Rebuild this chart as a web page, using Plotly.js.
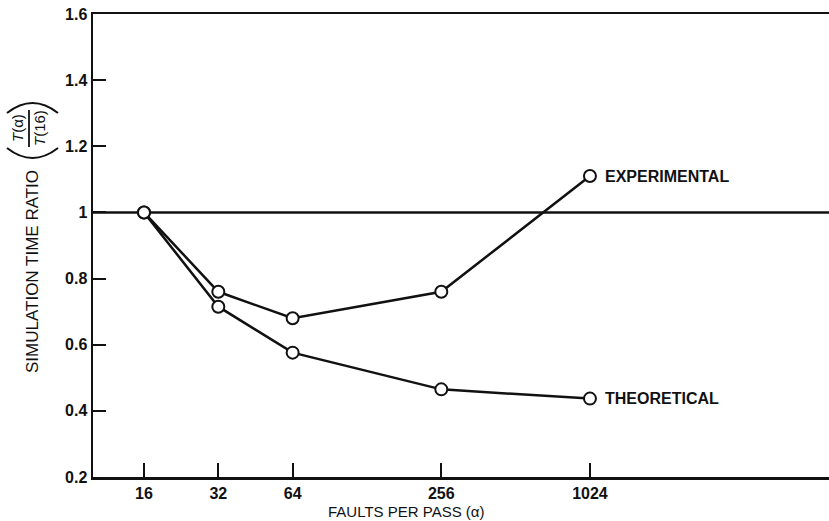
<!DOCTYPE html>
<html>
<head>
<meta charset="utf-8">
<script src="https://cdn.plot.ly/plotly-3.0.1.min.js"></script>
<style>
  html, body { margin: 0; padding: 0; background: #fff; }
  #chart { width: 829px; height: 521px; }
</style>
</head>
<body>
<div id="chart"></div>
<script>
// ---- data ----
const alpha = [16, 32, 64, 256, 1024];
const alphaLabels = ["16", "32", "64", "256", "1024"];
const experimental = [1.0, 0.76, 0.68, 0.76, 1.11];
const theoretical = [1.0, 0.715, 0.576, 0.465, 0.437];
const yTickVals = [0.2, 0.4, 0.6, 0.8, 1.0, 1.2, 1.4, 1.6];
const yTickText = ["0.2", "0.4", "0.6", "0.8", "1", "1.2", "1.4", "1.6"];
const referenceLevel = 1.0;
const seriesNames = ["EXPERIMENTAL", "THEORETICAL"];

// ---- layout geometry (pixels) ----
const W = 829, H = 521;
const M = { l: 93, r: 0, t: 14, b: 44 };
const PW = W - M.l - M.r, PH = H - M.t - M.b;
const px = x => (x - M.l) / PW;          // pixel -> paper x
const py = y => (H - M.b - y) / PH;      // pixel -> paper y
const pt = (x, y) => px(x).toFixed(5) + "," + py(y).toFixed(5);

const FONT = "Liberation Sans, Arial, Helvetica, sans-serif";
const black = "#111";

const markerStyle = { symbol: "circle", size: 12, color: "#fff", line: { color: black, width: 2 } };
const lineStyle = { color: black, width: 2.5 };

const traces = [
  { x: alpha, y: experimental, name: seriesNames[0], mode: "lines+markers",
    line: lineStyle, marker: markerStyle, cliponaxis: false },
  { x: alpha, y: theoretical, name: seriesNames[1], mode: "lines+markers",
    line: lineStyle, marker: markerStyle, cliponaxis: false }
];

const last = alpha.length - 1;
const annotations = [
  { x: Math.log10(alpha[last]), y: experimental[last], xref: "x", yref: "y",
    text: seriesNames[0], showarrow: false, xanchor: "left", yanchor: "middle", xshift: 13,
    font: { family: FONT, size: 16, color: black, weight: "bold" } },
  { x: Math.log10(alpha[last]), y: theoretical[last], xref: "x", yref: "y",
    text: seriesNames[1], showarrow: false, xanchor: "left", yanchor: "middle", xshift: 13,
    font: { family: FONT, size: 16, color: black, weight: "bold" } },
  // x-axis title
  { x: px(406), y: py(511), xref: "paper", yref: "paper", text: "FAULTS PER PASS (α)",
    showarrow: false, xanchor: "center", yanchor: "middle",
    font: { family: FONT, size: 15, color: black } },
  // y-axis title
  { x: px(32), y: py(272), xref: "paper", yref: "paper", text: "SIMULATION TIME RATIO",
    showarrow: false, textangle: -90, xanchor: "center", yanchor: "middle",
    font: { family: FONT, size: 17, color: black } },
  { x: px(17), y: py(128), xref: "paper", yref: "paper", text: "<i>T</i>(α)",
    showarrow: false, textangle: -90, xanchor: "center", yanchor: "middle",
    font: { family: FONT, size: 15, color: black } },
  { x: px(39), y: py(128), xref: "paper", yref: "paper", text: "<i>T</i>(16)",
    showarrow: false, textangle: -90, xanchor: "center", yanchor: "middle",
    font: { family: FONT, size: 15, color: black } }
];

const shapes = [
  { type: "line", xref: "paper", yref: "y", x0: 0, x1: 1, y0: referenceLevel, y1: referenceLevel,
    line: { color: black, width: 2.5 }, layer: "below" },
  // fraction bar in the y title
  { type: "line", xref: "paper", yref: "paper", x0: px(29), x1: px(29), y0: py(110), y1: py(147),
    line: { color: black, width: 1.8 } },
  // big rotated parentheses around the fraction
  { type: "path", xref: "paper", yref: "paper",
    path: "M" + pt(7, 113) + " Q" + pt(32.5, 93) + " " + pt(58, 113),
    line: { color: black, width: 2 } },
  { type: "path", xref: "paper", yref: "paper",
    path: "M" + pt(7, 148) + " Q" + pt(32.5, 168) + " " + pt(58, 148),
    line: { color: black, width: 2 } }
];

const layout = {
  width: W, height: H,
  margin: M,
  paper_bgcolor: "#fff", plot_bgcolor: "#fff",
  showlegend: false,
  font: { family: FONT, color: black },
  xaxis: {
    type: "log",
    range: [3.314 * Math.LOG10E * Math.LN2, 13.216 * Math.LOG10E * Math.LN2],
    tickvals: alpha, ticktext: alphaLabels,
    ticks: "inside", ticklen: 14, tickwidth: 2, tickcolor: black,
    showline: true, linecolor: black, linewidth: 2.5, mirror: true,
    showgrid: false, zeroline: false,
    tickfont: { family: FONT, size: 16, color: black, weight: "bold" }
  },
  yaxis: {
    range: [0.2, 1.6],
    tickvals: yTickVals, ticktext: yTickText,
    ticks: "inside", ticklen: 13, tickwidth: 2, tickcolor: black,
    showline: true, linecolor: black, linewidth: 2.5,
    showgrid: false, zeroline: false,
    tickfont: { family: FONT, size: 16, color: black, weight: "bold" }
  },
  annotations: annotations,
  shapes: shapes
};

Plotly.newPlot("chart", traces, layout, { displayModeBar: false, staticPlot: true });
</script>
</body>
</html>
